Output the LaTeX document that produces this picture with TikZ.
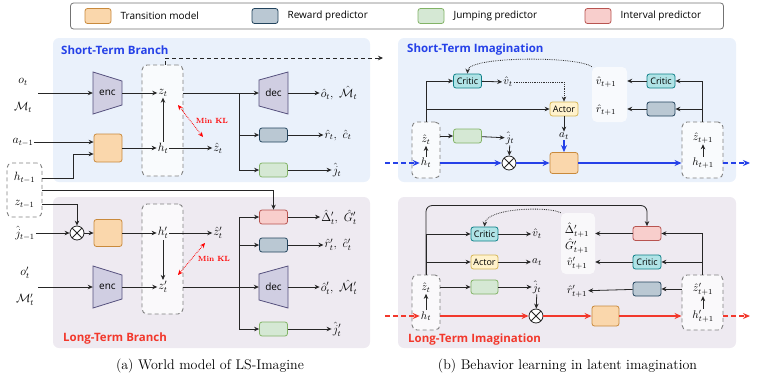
\documentclass[tikz,border=0pt]{standalone}
\usepackage{fix-cm}
\usepackage{amsmath, amssymb}
\usepackage{fontspec}
\newfontfamily\guifont{Open Sans}
\usepackage{tikz}
\usetikzlibrary{arrows.meta,positioning,calc}
\usepackage{xcolor}

\definecolor{stbg}{HTML}{EAF1FB}
\definecolor{ltbg}{HTML}{EEEAF1}
\definecolor{stblue}{HTML}{2541E8}
\definecolor{ltred}{HTML}{F2382C}
\definecolor{transfill}{HTML}{FAD7AC}
\definecolor{transline}{HTML}{C98A3C}
\definecolor{rewfill}{HTML}{BAC8D3}
\definecolor{rewline}{HTML}{23445D}
\definecolor{jumpfill}{HTML}{D5E8D4}
\definecolor{jumpline}{HTML}{82B366}
\definecolor{intfill}{HTML}{F8CECC}
\definecolor{intline}{HTML}{B85450}
\definecolor{critfill}{HTML}{B0E3E6}
\definecolor{critline}{HTML}{0E8088}
\definecolor{actfill}{HTML}{FFF2CC}
\definecolor{actline}{HTML}{D6B656}
\definecolor{coderfill}{HTML}{D0CEE2}
\definecolor{coderdraw}{HTML}{56517E}

\begin{document}
\begin{tikzpicture}[x=1pt, y=-1pt,
  arr/.style={-{Stealth[length=5pt,width=4.5pt]}},
  arrb/.style={-{Stealth[length=7pt,width=6pt]}},
  conn/.style={draw=black!85, line width=0.8pt, arr},
  wire/.style={draw=black!85, line width=0.8pt},
  blueconn/.style={draw=stblue, line width=1.3pt, arrb},
  bluedash/.style={blueconn, dash pattern=on 5pt off 3pt},
  redconn/.style={draw=ltred, line width=1.3pt, arrb},
  reddash/.style={redconn, dash pattern=on 5pt off 3pt},
  dotconn/.style={draw=black!80, line width=0.8pt, densely dotted, arr},
  klarrow/.style={draw=red, line width=0.8pt, densely dotted, {Stealth[length=5pt,width=4.5pt]}-{Stealth[length=5pt,width=4.5pt]}},
  kltext/.style={text=red, font=\bfseries\fontsize{7.5}{9}\selectfont, inner sep=1pt},
  blk/.style={rounded corners=2.5pt, minimum width=28pt, minimum height=14pt, inner sep=0pt, line width=0.8pt, font=\guifont\fontsize{9}{10}\selectfont},
  transbox/.style={blk, fill=transfill, draw=transline},
  rewbox/.style={blk, fill=rewfill, draw=rewline},
  jumpbox/.style={blk, fill=jumpfill, draw=jumpline},
  intbox/.style={blk, fill=intfill, draw=intline},
  criticbox/.style={blk, fill=critfill, draw=critline},
  actorbox/.style={blk, fill=actfill, draw=actline},
  statebox/.style={draw=black!50, dash pattern=on 4pt off 3pt, line width=0.9pt, rounded corners=5pt, fill=white, fill opacity=0.75, inner sep=0pt},
  wbox/.style={fill=white, fill opacity=0.7, rounded corners=5pt, inner sep=0pt},
  lbl/.style={inner sep=1pt, font=\fontsize{12}{14}\selectfont},
  lbls/.style={inner sep=1pt, font=\fontsize{11}{13}\selectfont},
  coder/.style={minimum width=29pt, minimum height=42pt, inner sep=0pt, font=\guifont\fontsize{10}{12}\selectfont},
  otimes/.style={circle, draw=black!85, line width=0.8pt, fill=white, minimum size=14pt, inner sep=0pt,
    path picture={\draw[black!85, line width=0.8pt] (path picture bounding box.north west) -- (path picture bounding box.south east)
      (path picture bounding box.south west) -- (path picture bounding box.north east);}},
  paneltitle/.style={font=\guifont\bfseries\fontsize{11.5}{13}\selectfont, inner sep=0pt, anchor=west},
  legtext/.style={font=\guifont\fontsize{10}{12}\selectfont, inner sep=0pt},
  captext/.style={font=\fontsize{14}{16}\selectfont, inner sep=0pt}]
  \useasboundingbox (0,0) rectangle (761,381);

  % legend
  \node[draw=black!55, line width=0.8pt, rounded corners=3pt, fill=white, minimum width=653pt, minimum height=26pt] (legend) at (397,16) {};
  \foreach \i/\sty/\x/\txt in {1/transbox/98/Transition model, 2/rewbox/265/Reward predictor, 3/jumpbox/431/Jumping predictor, 4/intbox/598/Interval predictor}{
    \node[\sty, minimum width=26pt, minimum height=15pt] (lg\i) at (\x,16) {};
    \node[legtext, right=9pt of lg\i] (lt\i) {\txt};
  }

  % panels
  \fill[stbg, rounded corners=6pt] (53,38) rectangle (370,182);
  \fill[ltbg, rounded corners=6pt] (53,197) rectangle (370,348);
  \fill[stbg, rounded corners=6pt] (398,38) rectangle (736,182);
  \fill[ltbg, rounded corners=6pt] (398,197) rectangle (736,348);
  \node[paneltitle, text=stblue] (stb) at (61,50) {Short-Term Branch};
  \node[paneltitle, text=ltred] (ltb) at (63,339) {Long-Term Branch};
  \node[paneltitle, text=stblue] (sti) at (407,50) {Short-Term Imagination};
  \node[paneltitle, text=ltred] (lti) at (408,340) {Long-Term Imagination};

  % encoders and decoders
  \foreach \nm/\cx/\cy/\hl/\hr/\txt in {enc1/107.5/93/21/12/enc, dec1/273.5/93/13/21/dec, enc2/107.5/287/21/12/enc, dec2/273.5/287/13/21/dec}{
    \draw[fill=coderfill, draw=coderdraw, line width=0.8pt] (\cx-14.5,\cy-\hl) -- (\cx+14.5,\cy-\hr) -- (\cx+14.5,\cy+\hr) -- (\cx-14.5,\cy+\hl) -- cycle;
    \node[coder] (\nm) at (\cx,\cy) {\txt};
  }

  % short-term branch
  \node[lbl] (ot) at (23,82) {$o_t$};
  \node[lbl] (Mt) at (23,107) {$\mathcal{M}_t$};
  \coordinate (obs1) at (38,93);
  \node[statebox, minimum width=41pt, minimum height=111pt] (sb1) at (162.5,120.5) {};
  \node[lbl] (zt) at (163,93) {$z_t$};
  \node[lbl] (ht) at (163,148) {$h_t$};
  \node[transbox, minimum height=28pt] (tr1) at (108,148) {};
  \node[lbl] (atm) at (23,142) {$a_{t-1}$};
  \node[statebox, minimum width=35pt, minimum height=54pt] (sbp) at (24.5,190) {};
  \node[lbl] (hm) at (24.5,178) {$h_{t-1}$};
  \node[lbl] (zm) at (24.5,204) {$z_{t-1}$};
  \node[lbl] (zh1) at (218,148) {$\hat{z}_t$};
  \node[rewbox] (rw1) at (273.5,135) {};
  \node[jumpbox] (jp1) at (273.5,170) {};
  \node[lbl] (oh1) at (339,93) {$\hat{o}_t,\ \hat{\mathcal{M}}_t$};
  \node[lbl] (rh1) at (338,135) {$\hat{r}_t,\ \hat{c}_t$};
  \node[lbl] (jh1) at (337,170) {$\hat{j}_t$};
  \coordinate (br1) at (239,93);
  \coordinate (hjn) at (73,154);
  \coordinate (imgout) at (383,58);
  \coordinate (kl1a) at (178,105);
  \coordinate (kl1b) at (203,137);

  \draw[conn] (obs1) -- (enc1);
  \draw[conn] (enc1) -- (zt);
  \draw[conn] (ht) -- (zt);
  \draw[conn] (atm.east) -- (atm.east -| tr1.west);
  \draw[conn] (hm.east -| sbp.east) -| (hjn) -- (hjn -| tr1.west);
  \draw[conn] (tr1) -- (ht);
  \draw[conn] (ht) -- (zh1);
  \draw[wire] (zt -| sb1.east) -- (br1);
  \draw[conn] (br1) -- (dec1);
  \draw[conn] (br1) |- (rw1);
  \draw[conn] (br1) |- (jp1);
  \draw[conn] (dec1) -- (oh1);
  \draw[conn] (rw1) -- (rh1);
  \draw[conn] (jp1) -- (jh1);
  \draw[klarrow] (kl1a) -- (kl1b) node[kltext, midway, right=4pt] (kl1) {Min KL};
  \draw[conn, dash pattern=on 4pt off 3pt] ([xshift=2.5pt]sb1.north) |- (imgout);

  % long-term branch
  \node[lbl] (jm) at (25,233) {$\hat{j}_{t-1}$};
  \node[otimes] (ox1) at (77,233) {};
  \node[transbox, minimum height=27pt] (tr2) at (108,233) {};
  \node[statebox, minimum width=41pt, minimum height=110pt] (sb2) at (162.5,259) {};
  \node[lbl] (hp) at (163,233) {$h'_t$};
  \node[lbl] (zp) at (163,287) {$z'_t$};
  \node[lbl] (op) at (25,273) {$o'_t$};
  \node[lbl] (Mp) at (25,300) {$\mathcal{M}'_t$};
  \coordinate (obs2) at (38,287);
  \node[lbl] (zh2) at (218,233) {$\hat{z}'_t$};
  \node[intbox] (in2) at (273.5,217) {};
  \node[rewbox] (rw2) at (273.5,245) {};
  \node[jumpbox] (jp2) at (273.5,329) {};
  \node[lbl] (dh2) at (339,217) {$\hat{\Delta}'_t,\ \hat{G}'_t$};
  \node[lbl] (rh2) at (338,245) {$\hat{r}'_t,\ \hat{c}'_t$};
  \node[lbl] (oh2) at (339,287) {$\hat{o}'_t,\ \hat{\mathcal{M}}'_t$};
  \node[lbl] (jh2) at (337,329) {$\hat{j}'_t$};
  \coordinate (br2) at (239,287);
  \coordinate (kl2a) at (205,243);
  \coordinate (kl2b) at (178,275);

  \draw[conn] (jm) -- (ox1);
  \draw[conn] (zm.east -| sbp.east) -| (ox1.north);
  \draw[conn] (ox1) -- (tr2);
  \draw[conn] (tr2) -- (hp);
  \draw[conn] (hp) -- (zp);
  \draw[conn] (obs2) -- (enc2);
  \draw[conn] (enc2) -- (zp);
  \draw[conn] (hp) -- (zh2);
  \draw[klarrow] (kl2a) -- (kl2b) node[kltext, midway, right=5pt] (kl2) {Min KL};
  \draw[wire] (zp -| sb2.east) -- (br2);
  \draw[conn] (br2) |- (in2);
  \draw[conn] (br2) |- (rw2);
  \draw[conn] (br2) -- (dec2);
  \draw[conn] (br2) |- (jp2);
  \draw[conn] (in2) -- (dh2);
  \draw[conn] (rw2) -- (rh2);
  \draw[conn] (dec2) -- (oh2);
  \draw[conn] (jp2) -- (jh2);
  \draw[conn] (sbp.east) -| (in2.north);

  % short-term imagination
  \node[statebox, minimum width=28pt, minimum height=56pt] (sb3) at (426,150) {};
  \node[lbls] (zh3) at (426,140) {$\hat{z}_t$};
  \node[lbls] (h3) at (426,163) {$h_t$};
  \coordinate (bin) at (385,163);
  \node[otimes] (ox3) at (509,163) {};
  \node[transbox, minimum height=21pt] (tr3) at (564,163) {};
  \node[statebox, minimum width=41pt, minimum height=56pt] (sb4) at (702.5,150) {};
  \node[lbls] (zh4) at (703,138) {$\hat{z}_{t+1}$};
  \node[lbls] (h4) at (703,163) {$h_{t+1}$};
  \coordinate (bout) at (750,163);
  \node[jumpbox] (jp3) at (467.5,136) {};
  \node[lbls] (jh3) at (510,138) {$\hat{j}_t$};
  \node[criticbox] (cr3) at (467.5,81) {Critic};
  \node[lbls] (v3) at (508,82) {$\hat{v}_t$};
  \node[actorbox] (ac3) at (564,109) {Actor};
  \node[lbls] (a3) at (564,136) {$a_t$};
  \node[wbox, minimum width=35pt, minimum height=55pt] (wb3) at (609.5,94.5) {};
  \node[lbls] (v4) at (606,82) {$\hat{v}_{t+1}$};
  \node[lbls] (r4) at (606,110) {$\hat{r}_{t+1}$};
  \node[criticbox] (cr4) at (661,81) {Critic};
  \node[rewbox] (rw4) at (661,109) {};

  \draw[bluedash] (bin) -- (h3);
  \draw[blueconn] (h3 -| sb3.east) -- (ox3);
  \draw[blueconn] (ox3) -- (tr3);
  \draw[blueconn] (tr3) -- (h4 -| sb4.west);
  \draw[bluedash] (h4 -| sb4.east) -- (bout);
  \draw[conn] (h3) -- (zh3);
  \draw[conn] (h4) -- (zh4);
  \draw[conn] (jp3 -| sb3.east) -- (jp3);
  \draw[conn] (jp3) -- (jh3);
  \draw[conn] (jh3) -- (ox3);
  \draw[conn] (sb3.north) |- (cr3);
  \draw[conn] (sb3.north) |- (ac3);
  \draw[conn] (cr3) -- (v3);
  \draw[dotconn] (v3.east) -| (ac3.north);
  \draw[conn] (ac3) -- (a3);
  \draw[blueconn] (a3) -- (tr3);
  \draw[conn] (sb4.north) |- (cr4);
  \draw[conn] (sb4.north) |- (rw4);
  \draw[conn] (cr4) -- (cr4 -| wb3.east);
  \draw[conn] (rw4) -- (rw4 -| wb3.east);
  \draw[dotconn] (wb3.north west) .. controls (578,56) and (468,56) .. (cr3.north);

  % long-term imagination
  \node[statebox, minimum width=28pt, minimum height=55pt] (sb5) at (426,302.5) {};
  \node[lbls] (zh5) at (426,288) {$\hat{z}_t$};
  \node[lbls] (h5) at (426,316) {$h_t$};
  \coordinate (rin) at (385,316);
  \node[otimes] (ox5) at (536,316) {};
  \node[transbox, minimum width=27pt, minimum height=20pt] (tr5) at (605.5,316) {};
  \node[statebox, minimum width=41pt, minimum height=55pt] (sb6) at (702.5,302.5) {};
  \node[lbls] (zh6) at (703,289) {$\hat{z}'_{t+1}$};
  \node[lbls] (h6) at (703,316) {$h'_{t+1}$};
  \coordinate (rout) at (750,316);
  \node[jumpbox, minimum width=27pt] (jp5) at (484.5,287) {};
  \node[lbls] (jh5) at (537,287) {$\hat{j}_t$};
  \node[criticbox, minimum width=27pt] (cr5) at (484.5,234) {Critic};
  \node[lbls] (v5) at (537,234) {$\hat{v}_t$};
  \node[actorbox, minimum width=27pt] (ac5) at (484.5,262) {Actor};
  \node[lbls] (a5) at (537,262) {$a_t$};
  \node[wbox, minimum width=34pt, minimum height=61pt] (wb6) at (578,243.5) {};
  \node[lbls] (dh6) at (577,230) {$\hat{\Delta}'_{t+1}$};
  \node[lbls] (gh6) at (577,246) {$\hat{G}'_{t+1}$};
  \node[lbls] (vh6) at (577,263) {$\hat{v}'_{t+1}$};
  \node[lbls] (rh6) at (577,291) {$\hat{r}'_{t+1}$};
  \node[intbox] (in6) at (647,233.5) {};
  \node[criticbox] (cr6) at (647,262) {Critic};
  \node[rewbox] (rw6) at (647,289) {};

  \draw[reddash] (rin) -- (h5);
  \draw[redconn] (h5 -| sb5.east) -- (ox5);
  \draw[redconn] (ox5) -- (tr5);
  \draw[redconn] (tr5) -- (h6 -| sb6.west);
  \draw[reddash] (h6 -| sb6.east) -- (rout);
  \draw[conn] (h5) -- (zh5);
  \draw[conn] (h6) -- (zh6);
  \draw[conn] (jp5 -| sb5.east) -- (jp5);
  \draw[conn] (jp5) -- (jh5);
  \draw[conn] (jh5) -- (ox5);
  \draw[conn] (sb5.north) |- (cr5);
  \draw[conn] (sb5.north) |- (ac5);
  \draw[conn, rounded corners=6pt] (sb5.north) -- ++(0,-69) -| (in6.north);
  \draw[conn] (cr5) -- (v5);
  \draw[conn] (ac5) -- (a5);
  \draw[conn] (sb6.north) |- (in6);
  \draw[conn] (sb6.north) |- (cr6);
  \draw[conn] (rw6 -| sb6.west) -- (rw6);
  \draw[conn] (in6) -- (in6 -| wb6.east);
  \draw[conn] (cr6) -- (cr6 -| wb6.east);
  \draw[conn] (rw6) -- (rh6);
  \draw[dotconn] (wb6.north west) .. controls (548,206) and (486,208) .. (cr5.north);

  % captions
  \node[captext] (capa) at (210,366) {(a) World model of LS-Imagine};
  \node[captext] (capb) at (567.5,366) {(b) Behavior learning in latent imagination};
\end{tikzpicture}
\end{document}
